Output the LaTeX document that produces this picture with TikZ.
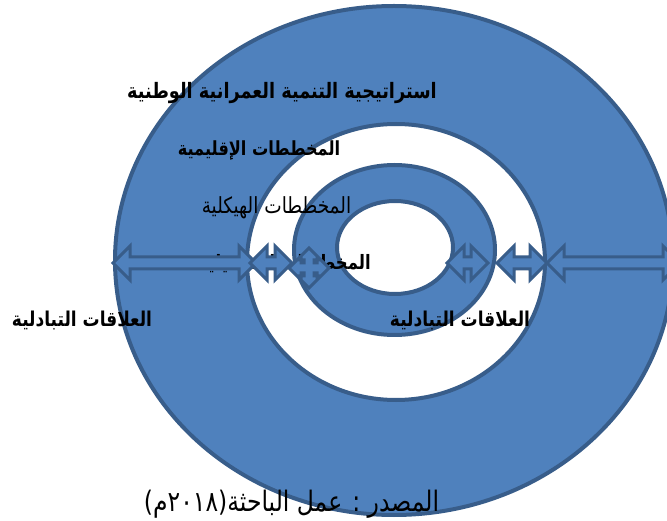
\documentclass[tikz,border=0pt]{standalone}
\usepackage{fontspec}
\newfontfamily\arabicfont[Script=Arabic]{DejaVu Sans}
\TeXXeTstate=1
\definecolor{ringfill}{HTML}{4F81BD}
\definecolor{ringline}{HTML}{385D8A}
\newcommand\DArrow[3]{% x1, x2, y
  \filldraw[arrowshape] (#1,#3) -- ++(17,-17) -- ++(0,11) -- (#2-17,#3-6) -- ++(0,-11) -- (#2,#3)
    -- ++(-17,17) -- ++(0,-11) -- (#1+17,#3+6) -- ++(0,11) -- cycle;}
\newcommand\fs[1]{\fontsize{#1}{#1}\selectfont}
\newcommand\tall[1]{\scalebox{1}[1.2]{#1}}
\begin{document}
\begin{tikzpicture}[x=1pt,y=-1pt,
  bluering/.style={fill=ringfill, draw=ringline, line width=4pt},
  whitering/.style={fill=white, draw=ringline, line width=4pt},
  arrowshape/.style={fill=ringfill, draw=ringline, line width=3pt, line join=miter},
  boldlabel/.style={inner sep=0pt, font=\arabicfont\bfseries},
  plainlabel/.style={inner sep=0pt, font=\arabicfont}]
\useasboundingbox (0,0) rectangle (667,521);
\begin{scope}
\clip (0,0) rectangle (667,521);
\path[bluering] (394,260.5) ellipse [x radius=279, y radius=254.5];
\path[whitering] (396,262) ellipse [x radius=149, y radius=138];
\path[bluering] (394.5,250) ellipse [x radius=100.5, y radius=85];
\path[whitering] (395,247.5) ellipse [x radius=58, y radius=46.5];

\node[boldlabel, anchor=east] (tafsili) at (371,264) {\tall{\fs{16.5}\beginR المخططات التفصيلية\endR}};

\DArrow{113}{256}{263}
\DArrow{250}{292}{263}
\DArrow{447}{488}{263}
\DArrow{497}{547}{263}
\DArrow{547}{680}{263}
% quad arrow
\begin{scope}[shift={(309,268)}]
\filldraw[arrowshape] (-20,0) -- (-8,-12) -- (-8,-5) -- (-5,-5) -- (-5,-8) -- (-12,-8) -- (0,-20)
  -- (12,-8) -- (5,-8) -- (5,-5) -- (8,-5) -- (8,-12) -- (20,0)
  -- (8,12) -- (8,5) -- (5,5) -- (5,8) -- (12,8) -- (0,20)
  -- (-12,8) -- (-5,8) -- (-5,5) -- (-8,5) -- (-8,12) -- cycle;
\end{scope}
\end{scope}

\node[boldlabel] (watani) at (282,93) {\tall{\fs{17.7}\beginR استراتيجية التنمية العمرانية الوطنية\endR}};
\node[boldlabel] (iqlimi) at (259,150) {\tall{\fs{16.2}\beginR المخططات الإقليمية\endR}};
\node[plainlabel] (haykali) at (276.5,208) {\tall{\fs{18.5}\beginR المخططات الهيكلية\endR}};
\node[boldlabel] (alaqat1) at (82,321) {\tall{\fs{17}\beginR العلاقات التبادلية\endR}};
\node[boldlabel] (alaqat2) at (460,321) {\tall{\fs{17}\beginR العلاقات التبادلية\endR}};
\node[plainlabel] (masdar) at (291.5,504) {\tall{\fs{23.5}\beginR المصدر : عمل الباحثة(\beginL ٢٠١٨\endL م)\endR}};
\end{tikzpicture}
\end{document}
